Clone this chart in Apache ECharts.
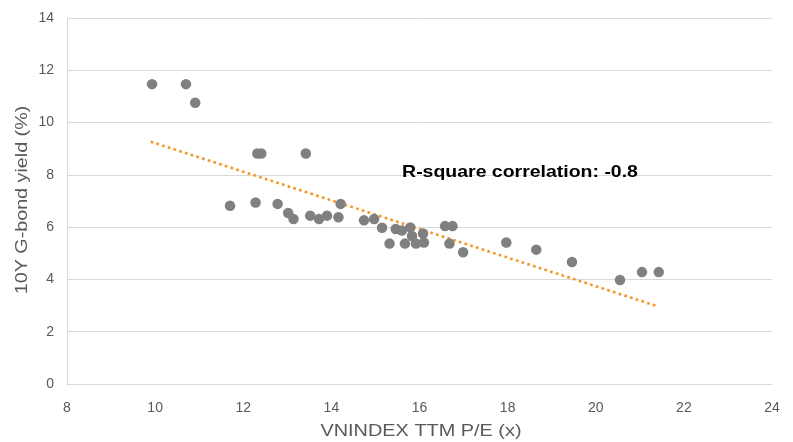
<!DOCTYPE html>
<html><head><meta charset="utf-8">
<script src="https://cdn.jsdelivr.net/npm/echarts@6/dist/echarts.min.js"></script>
<style>html,body{margin:0;padding:0;background:#fff}#c{width:793px;height:442px}</style>
</head><body><div id="c"></div>
<script>
const peValues = [9.93,10.70,10.91,12.32,12.41,13.42,11.70,12.28,12.78,13.02,13.14,13.52,13.72,13.90,14.16,14.21,14.74,14.97,15.15,15.32,15.46,15.60,15.67,15.79,15.83,15.92,16.08,16.10,16.58,16.75,16.68,16.99,17.97,18.65,19.46,20.55,21.05,21.43];
const yieldValues = [11.47,11.47,10.76,8.82,8.82,8.82,6.82,6.94,6.89,6.54,6.31,6.44,6.31,6.44,6.38,6.89,6.26,6.31,5.98,5.37,5.93,5.87,5.37,5.99,5.66,5.37,5.76,5.41,6.04,6.04,5.37,5.04,5.41,5.14,4.67,3.98,4.28,4.28];
const trendX = [9.90, 21.39];
const trendY = [9.27, 2.98];
const xTicks = {min: 8, max: 24, interval: 2};
const yTicks = {min: 0, max: 14, interval: 2};
const xName = 'VNINDEX TTM P/E (x)';
const yName = '10Y G-bond yield (%)';
const annotation = 'R-square correlation: -0.8';

const chart = echarts.init(document.getElementById('c'), null, {renderer: 'canvas'});
const font = 'Liberation Sans, Arial, sans-serif';
chart.setOption({
  animation: false,
  backgroundColor: '#fff',
  grid: {left: 67, right: 21, top: 18, bottom: 58},
  xAxis: {
    type: 'value', min: xTicks.min, max: xTicks.max, interval: xTicks.interval,
    axisLine: {show: true, lineStyle: {color: '#d9d9d9', width: 1}},
    axisTick: {show: false},
    axisLabel: {fontFamily: font, fontSize: 14, color: '#595959', margin: 17},
    splitLine: {show: false}
  },
  yAxis: {
    type: 'value', min: yTicks.min, max: yTicks.max, interval: yTicks.interval,
    axisLine: {show: true, lineStyle: {color: '#d9d9d9', width: 1}},
    axisTick: {show: false},
    axisLabel: {fontFamily: font, fontSize: 14, color: '#595959', margin: 13},
    splitLine: {show: true, lineStyle: {color: '#d9d9d9', width: 1}}
  },
  series: [
    {
      type: 'line',
      data: trendX.map((x, i) => [x, trendY[i]]),
      symbol: 'none',
      lineStyle: {color: '#f7941d', width: 2.6, type: [2.6, 3.4], cap: 'butt'},
      z: 3
    },
    {
      type: 'scatter',
      data: peValues.map((x, i) => [x, yieldValues[i]]),
      symbolSize: 10.5,
      itemStyle: {color: '#808080', opacity: 1},
      z: 4
    }
  ],
  graphic: [
    {
      type: 'text', x: 520, y: 172, scaleX: 1.18, z: 100,
      style: {text: annotation, font: 'bold 16.5px Liberation Sans, Arial, sans-serif', fill: '#000', align: 'center', verticalAlign: 'middle'}
    },
    {
      type: 'text', x: 421, y: 431, scaleX: 1.17, z: 100,
      style: {text: xName, font: '17px Liberation Sans, Arial, sans-serif', fill: '#595959', align: 'center', verticalAlign: 'middle'}
    },
    {
      type: 'text', x: 22, y: 200, rotation: Math.PI / 2, scaleX: 1.16, z: 100,
      style: {text: yName, font: '17px Liberation Sans, Arial, sans-serif', fill: '#595959', align: 'center', verticalAlign: 'middle'}
    }
  ]
});
</script></body></html>
